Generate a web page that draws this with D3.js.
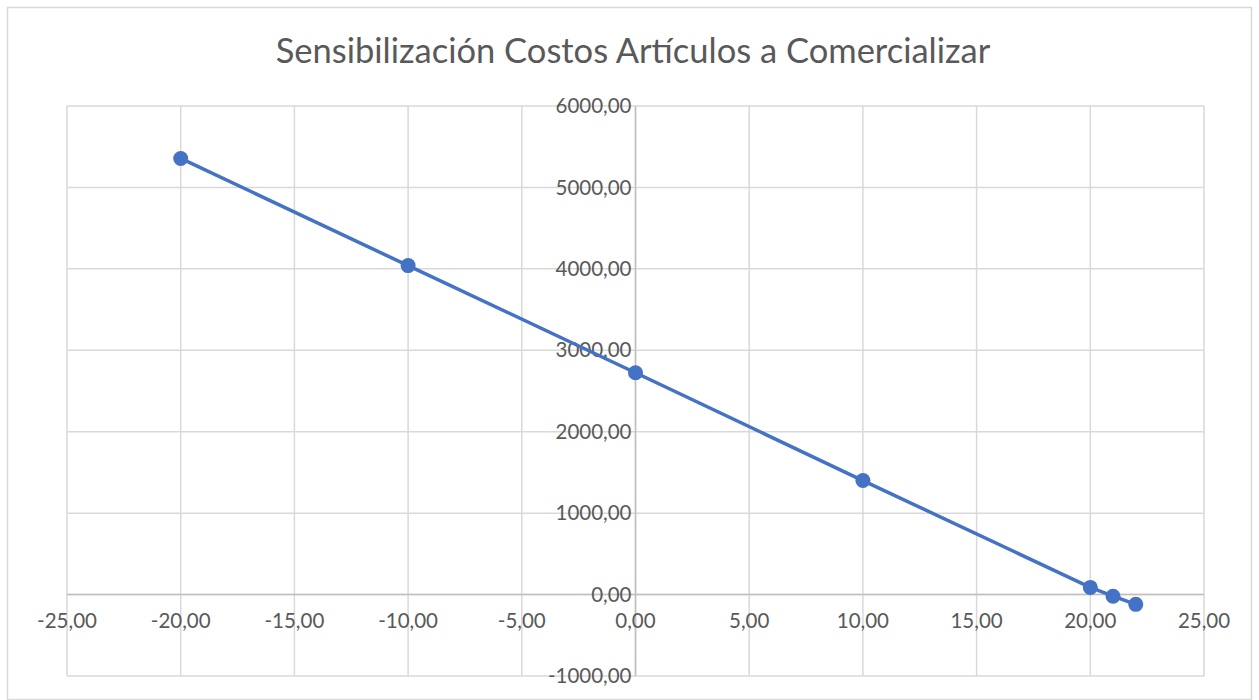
<!DOCTYPE html>
<html>
<head>
<meta charset="utf-8">
<script src="https://cdn.jsdelivr.net/npm/d3@7"></script>
<style>
  html, body { margin: 0; padding: 0; background: #fff; }
  svg { display: block; }
</style>
</head>
<body>
<svg id="chart" width="1259" height="700"></svg>
<script>
// Variación porcentual del costo y resultado asociado
const variacion = [-20, -10, 0, 10, 20, 21, 22];
const resultado = [5356, 4040, 2724, 1400, 88, -20, -120];

const xTicks = [-25, -20, -15, -10, -5, 0, 5, 10, 15, 20, 25];
const yTicks = [-1000, 0, 1000, 2000, 3000, 4000, 5000, 6000];

const titulo = "Sensibilización Costos Artículos a Comercializar";

const W = 1259, H = 700;
const plot = { left: 67, right: 1204, top: 106, bottom: 676 };
const FONT = "Lato, 'Open Sans', 'Liberation Sans', sans-serif";
const textColor = "#595959";

const svg = d3.select("#chart");

// marco del gráfico
svg.append("rect")
  .attr("x", 7.5).attr("y", 7.5)
  .attr("width", W - 15).attr("height", H - 8)
  .attr("fill", "#fff")
  .attr("stroke", "#d9d9d9")
  .attr("stroke-width", 1.5);

const x = d3.scaleLinear().domain([-25, 25]).range([plot.left, plot.right]);
const y = d3.scaleLinear().domain([-1000, 6000]).range([plot.bottom, plot.top]);

const fmt = v => d3.format(".2f")(v).replace(".", ",").replace("−", "-");

// cuadrícula
const grid = svg.append("g");
grid.selectAll("line.v").data(xTicks).join("line")
  .attr("x1", d => x(d)).attr("x2", d => x(d))
  .attr("y1", plot.top).attr("y2", plot.bottom)
  .attr("stroke", "#d9d9d9").attr("stroke-width", 1.5);
grid.selectAll("line.h").data(yTicks).join("line")
  .attr("x1", plot.left).attr("x2", plot.right)
  .attr("y1", d => y(d)).attr("y2", d => y(d))
  .attr("stroke", "#d9d9d9").attr("stroke-width", 1.5);

// ejes que cruzan en cero
svg.append("line")
  .attr("x1", plot.left).attr("x2", plot.right)
  .attr("y1", y(0)).attr("y2", y(0))
  .attr("stroke", "#bfbfbf").attr("stroke-width", 1.5);
svg.append("line")
  .attr("x1", x(0)).attr("x2", x(0))
  .attr("y1", plot.top).attr("y2", plot.bottom)
  .attr("stroke", "#bfbfbf").attr("stroke-width", 1.5);

// etiquetas del eje X
svg.append("g").selectAll("text").data(xTicks).join("text")
  .attr("x", d => x(d))
  .attr("y", y(0) + 33)
  .attr("text-anchor", "middle")
  .attr("font-family", FONT).attr("font-size", 20.5)
  .attr("fill", textColor)
  .text(d => fmt(d));

// etiquetas del eje Y
svg.append("g").selectAll("text").data(yTicks).join("text")
  .attr("x", x(0) - 4)
  .attr("y", d => y(d))
  .attr("dy", "0.35em")
  .attr("text-anchor", "end")
  .attr("font-family", FONT).attr("font-size", 20.5)
  .attr("fill", textColor)
  .text(d => fmt(d));

// título
svg.append("text")
  .attr("x", 633).attr("y", 63)
  .attr("text-anchor", "middle")
  .attr("font-family", FONT).attr("font-size", 34.5)
  .attr("fill", textColor)
  .text(titulo);

// serie
const pts = variacion.map((v, i) => [v, resultado[i]]);
svg.append("path")
  .datum(pts)
  .attr("fill", "none")
  .attr("stroke", "#4472C4")
  .attr("stroke-width", 3.5)
  .attr("stroke-linejoin", "round")
  .attr("d", d3.line().x(d => x(d[0])).y(d => y(d[1])));

svg.append("g").selectAll("circle").data(pts).join("circle")
  .attr("cx", d => x(d[0])).attr("cy", d => y(d[1]))
  .attr("r", 7.5)
  .attr("fill", "#4472C4");
</script>
</body>
</html>
